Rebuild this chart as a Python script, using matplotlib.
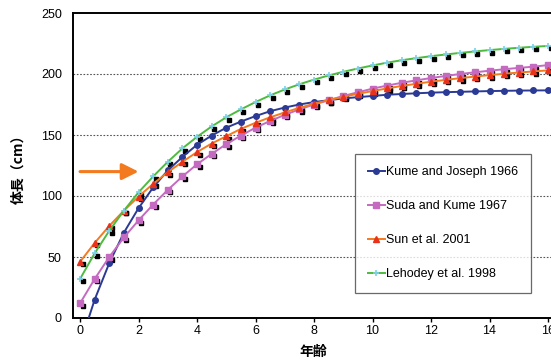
import numpy as np
import matplotlib
matplotlib.use('Agg')
import matplotlib.pyplot as plt
from matplotlib.transforms import ScaledTranslation

plt.rcParams['font.family'] = ['Liberation Sans', 'DejaVu Sans']

# age (years)
ages = [0, 0.5, 1, 1.5, 2, 2.5, 3, 3.5, 4, 4.5, 5, 5.5, 6, 6.5, 7, 7.5, 8,
        8.5, 9, 9.5, 10, 10.5, 11, 11.5, 12, 12.5, 13, 13.5, 14, 14.5, 15, 15.5, 16]

# body length (cm) per growth curve
kume_joseph = [-22, 15, 45, 70, 90, 107, 121, 132, 142, 149.5, 156, 161, 165.5, 169.5,
               172.5, 175, 177, 178.5, 180, 181, 182, 183, 183.6, 184.2, 184.7, 185.1,
               185.4, 185.7, 186, 186.2, 186.4, 186.5, 186.6]
suda_kume = [12, 32, 50, 66, 80, 93, 105, 116, 126, 134.5, 142.5, 149.5, 156, 161.5,
             166.5, 171, 175, 178.5, 182, 185, 188, 190.5, 192.8, 194.8, 196.7, 198.4,
             200, 201.4, 202.7, 203.9, 205, 206, 207.3]
sun_2001 = [46, 61.5, 75.5, 88, 99.5, 110, 119.5, 128, 136, 143, 149, 155, 160, 164.5,
            168.5, 172.3, 175.6, 178.6, 181.3, 183.8, 186, 188.2, 190.2, 192, 193.7,
            195.2, 196.6, 197.9, 199.1, 200.2, 201.2, 202.1, 203]
lehodey_1998 = [32, 53, 71.5, 88, 103, 116, 128, 139, 148.5, 157, 164.5, 171, 177, 182.5,
                187.3, 191.6, 195.4, 198.8, 201.8, 204.5, 207, 209.3, 211.3, 213, 214.6,
                216, 217.3, 218.5, 219.6, 220.6, 221.5, 222.3, 223]

labels = ['Kume and Joseph 1966', 'Suda and Kume 1967', 'Sun et al. 2001', 'Lehodey et al. 1998']

fig = plt.figure(figsize=(5.51, 3.62), dpi=100)
ax = fig.add_axes([73 / 551, 1 - 318 / 362, 480 / 551, 305 / 362])

# black "shadow" squares next to the markers of three curves
shadow = ax.transData + ScaledTranslation(2.5 / 100, -2.5 / 100, fig.dpi_scale_trans)
for vals in [suda_kume, sun_2001, lehodey_1998]:
    ax.plot(ages, vals, ls='none', marker='s', ms=2.8, color='black',
            transform=shadow, zorder=2)

ax.plot(ages, kume_joseph, color='#2b3a94', lw=1.4, marker='o', ms=4,
        label=labels[0], zorder=3)
ax.plot(ages, suda_kume, color='#c46ac0', lw=1.4, marker='s', ms=4,
        label=labels[1], zorder=3)
ax.plot(ages, sun_2001, color='#f47a20', lw=1.4, marker='^', ms=4,
        mfc='#e8321c', mec='#e8321c', label=labels[2], zorder=3)
ax.plot(ages, lehodey_1998, color='#4dbb3f', lw=1.4, marker='+', ms=5, mew=1.2,
        mec='#7fd0e6', label=labels[3], zorder=3)

ax.annotate('', xy=(2.0, 120), xytext=(0.0, 120),
            arrowprops=dict(arrowstyle='-|>,head_length=0.5,head_width=0.25',
                            color='#f47a20', lw=2.2, mutation_scale=20,
                            shrinkA=0, shrinkB=0))

ax.set_xlim(-0.24, 16.17)
ax.set_ylim(0, 250)
ax.set_xticks(range(0, 17, 2))
ax.set_yticks(range(0, 251, 50))
ax.tick_params(axis='x', direction='out', length=3, width=1, labelsize=9, pad=2)
ax.tick_params(axis='y', length=0, labelsize=9, pad=8)
for y in [50, 100, 150, 200]:
    ax.axhline(y, color='#555555', lw=0.8, ls=(0, (1.5, 1.5)), zorder=1)

for s in ['left', 'bottom', 'top']:
    ax.spines[s].set_linewidth(1.4)
ax.spines['right'].set_visible(False)

ax.set_xlabel('年齢', family=['Noto Sans CJK JP', 'DejaVu Sans'], fontsize=10,
              fontweight='bold', labelpad=6)
ax.set_ylabel('体長（cm）', family=['Noto Sans CJK JP', 'DejaVu Sans'], fontsize=10,
              fontweight='bold', labelpad=11)

leg = ax.legend(loc='upper left', bbox_to_anchor=(355 / 551, 1 - 154 / 362),
                bbox_transform=fig.transFigure, borderaxespad=0, fontsize=9,
                frameon=True, fancybox=False, handlelength=1.4, handletextpad=0.1,
                labelspacing=1.75, borderpad=1.0, numpoints=1)
leg.get_frame().set_edgecolor('#444444')
leg.get_frame().set_linewidth(0.9)

fig.savefig('out.png', dpi=100)
